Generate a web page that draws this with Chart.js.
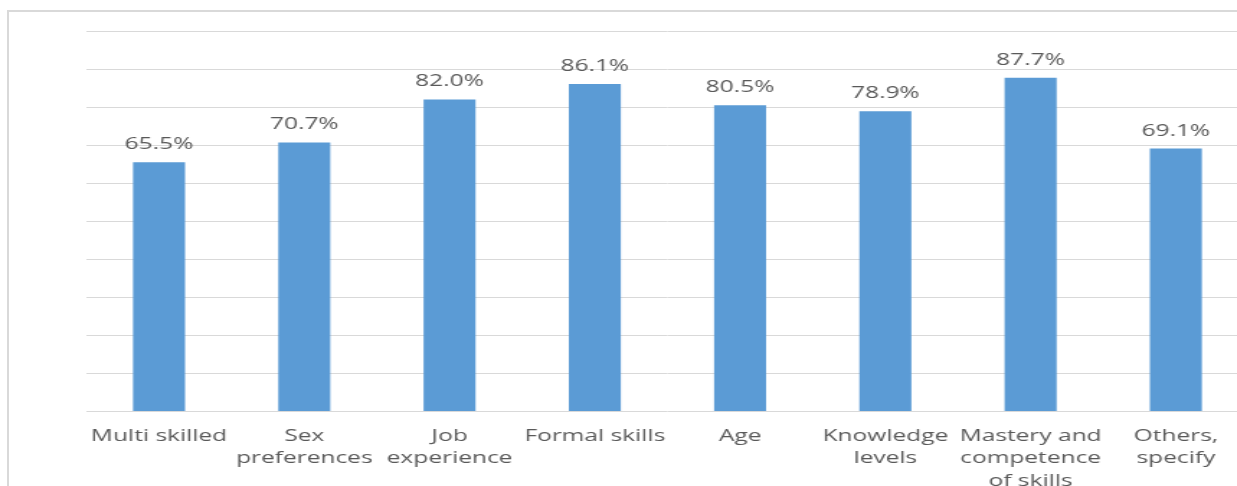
<!DOCTYPE html>
<html>
<head>
<meta charset="utf-8">
<script src="https://cdn.jsdelivr.net/npm/chart.js@4"></script>
<style>
  html, body { margin: 0; padding: 0; width: 1237px; height: 486px; overflow: hidden; background: #fff; }
  #stage { position: absolute; left: 0; top: 0; transform-origin: 0 0; transform: scaleX(1.44); }
  #frame { position: absolute; left: 7px; top: 10px; width: 2000px; height: 1000px;
           border-left: 2px solid #d9d9d9; border-top: 2px solid #d9d9d9; pointer-events: none; }
</style>
</head>
<body>
<div id="stage"><canvas id="c" width="867" height="486"></canvas></div>
<div id="frame"></div>
<script>
// Share of respondents citing each factor (%)
const categories = [
  'Multi skilled',
  ['Sex', 'preferences'],
  ['Job', 'experience'],
  'Formal skills',
  'Age',
  ['Knowledge', 'levels'],
  ['Mastery and', 'competence', 'of skills'],
  ['Others,', 'specify']
];
const values = [65.5, 70.7, 82.0, 86.1, 80.5, 78.9, 87.7, 69.1];
const yTicks = [0, 10, 20, 30, 40, 50, 60, 70, 80, 90, 100];

const FONT = '"Open Sans", "DejaVu Sans", sans-serif';
const TEXT = '#595959';

// Percent value printed above each bar
const valueLabels = {
  id: 'valueLabels',
  afterDatasetsDraw(chart) {
    const ctx = chart.ctx;
    const meta = chart.getDatasetMeta(0);
    ctx.save();
    ctx.font = '17px ' + FONT;
    ctx.fillStyle = TEXT;
    ctx.textAlign = 'center';
    ctx.textBaseline = 'alphabetic';
    meta.data.forEach((bar, i) => {
      ctx.fillText(values[i].toFixed(1) + '%', bar.x, bar.y - 13);
    });
    ctx.restore();
  }
};

new Chart(document.getElementById('c'), {
  type: 'bar',
  data: {
    labels: categories,
    datasets: [{
      data: values,
      backgroundColor: '#5b9bd5',
      borderWidth: 0,
      barPercentage: 0.358,
      categoryPercentage: 1
    }]
  },
  options: {
    responsive: false,
    animation: false,
    devicePixelRatio: 1,
    layout: { padding: { left: 60, top: 31, right: 0, bottom: 0 } },
    plugins: { legend: { display: false }, tooltip: { enabled: false } },
    scales: {
      x: {
        grid: { display: false },
        border: { display: false },
        ticks: {
          autoSkip: false,
          maxRotation: 0,
          minRotation: 0,
          padding: 6,
          color: TEXT,
          font: { family: FONT, size: 17, lineHeight: 1.3 }
        },
        afterFit(scale) { scale.height = 74.5; }
      },
      y: {
        min: 0,
        max: 100,
        afterBuildTicks(scale) { scale.ticks = yTicks.map(v => ({ value: v })); },
        grid: { color: '#d9d9d9', lineWidth: 1, drawTicks: false },
        border: { display: false },
        ticks: { display: false },
        afterFit(scale) { scale.width = 0; }
      }
    }
  },
  plugins: [valueLabels]
});
</script>
</body>
</html>
